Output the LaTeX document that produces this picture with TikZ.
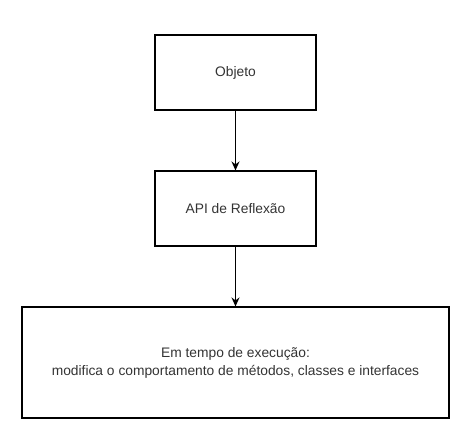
\documentclass[tikz,border=0pt]{standalone}
\usepackage{fontspec}
\setmainfont{Liberation Sans}
\usepackage{tikz}
\usetikzlibrary{arrows.meta}

\begin{document}
\begin{tikzpicture}[x=1pt,y=-1pt]
\tikzstyle{every node}=[font=\fontsize{13.8}{18}\selectfont, text=black!80]
\tikzstyle{box}=[draw, line width=1.1pt, minimum width=161, minimum height=75, align=center, inner sep=0pt]
\tikzstyle{flow}=[line width=1.1pt, -{Stealth[length=9pt,width=8pt]}]

\useasboundingbox (0,0) rectangle (467,438);

\node[box] (Objeto) at (235.5,72.5) {Objeto};
\node[box] (Api) at (235.5,208.5) {API de Reflexão};
\node[box, minimum width=427, minimum height=111] (Execucao) at (235.5,362.5)
  {Em tempo de execução:\\modifica o comportamento de métodos, classes e interfaces};

\draw[flow] (Objeto) -- (Api);
\draw[flow] (Api) -- (Execucao);
\end{tikzpicture}
\end{document}
